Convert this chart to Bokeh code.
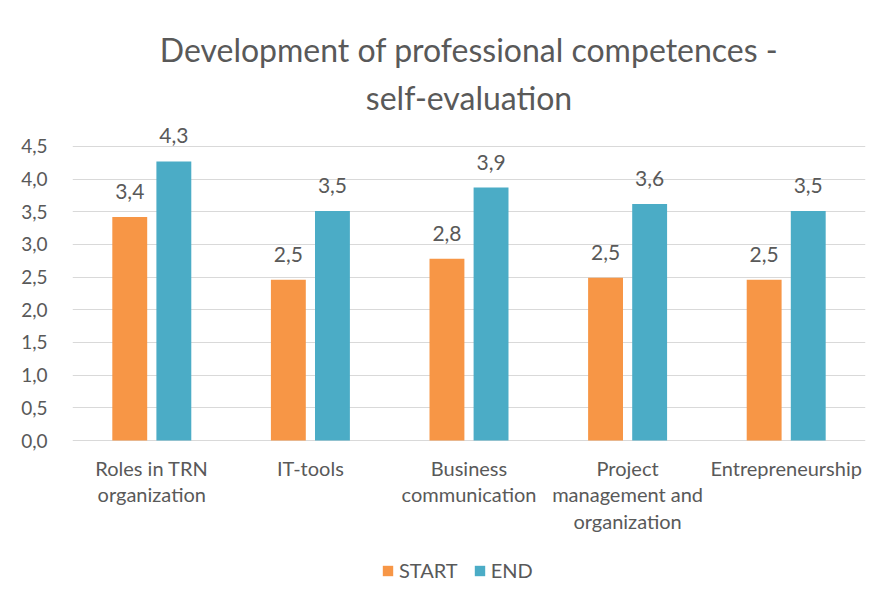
from bokeh.plotting import figure
from bokeh.models import (ColumnDataSource, FixedTicker, CustomJSTickFormatter, LabelSet,
                          Legend, LegendItem, Title, Range1d)
from bokeh.core.properties import value
from bokeh.transform import dodge
from bokeh.embed import file_html
from bokeh.resources import INLINE

categories = ["Roles in TRN\norganization", "IT-tools", "Business\ncommunication",
              "Project\nmanagement and\norganization", "Entrepreneurship"]
start_values = [3.42, 2.46, 2.78, 2.49, 2.46]
end_values = [4.27, 3.51, 3.87, 3.62, 3.51]
start_labels = ["3,4", "2,5", "2,8", "2,5", "2,5"]
end_labels = ["4,3", "3,5", "3,9", "3,6", "3,5"]
series_names = ["START", "END"]
y_ticks = [0.0, 0.5, 1.0, 1.5, 2.0, 2.5, 3.0, 3.5, 4.0, 4.5]
title_lines = ["Development of professional competences -", "self-evaluation"]

ORANGE = "#F79646"
TEAL = "#4BACC6"
TXT = "#595959"
GRID = "#D9D9D9"
FONT = "Lato"

# split category names into separate lines so each line is centred
split = [c.split("\n") for c in categories]
n_lines = max(len(s) for s in split)
line_cols = {f"line{i}": [s[i] if i < len(s) else "" for s in split] for i in range(n_lines)}

src = ColumnDataSource(dict(cat=categories, start=start_values, end=end_values,
                            start_lbl=start_labels, end_lbl=end_labels,
                            base=[0.0] * len(categories), **line_cols))

# y range extends below zero so that the category labels and legend sit inside the frame
p = figure(x_range=categories, y_range=Range1d(-2.31, 4.85), width=871, height=591,
           title=None, output_backend="svg", toolbar_location=None,
           min_border_left=72, min_border_right=6, min_border_top=123, min_border_bottom=0)
p.outline_line_color = None
p.background_fill_color = "white"

p.add_layout(Title(text=title_lines[1], align="center", text_font=FONT, text_font_size="32px",
                   text_font_style="normal", text_color=TXT, standoff=13), "above")
p.add_layout(Title(text=title_lines[0], align="center", text_font=FONT, text_font_size="32px",
                   text_font_style="normal", text_color=TXT, standoff=2), "above")

off = 0.139
w = 0.22
r1 = p.vbar(x=dodge("cat", -off, range=p.x_range), top="start", width=w, source=src,
            fill_color=ORANGE, line_color=None)
r2 = p.vbar(x=dodge("cat", off, range=p.x_range), top="end", width=w, source=src,
            fill_color=TEAL, line_color=None)

for col, lbl, o in [("start", "start_lbl", -off), ("end", "end_lbl", off)]:
    p.add_layout(LabelSet(x=dodge("cat", o, range=p.x_range), y=col, text=lbl, source=src,
                          text_align="center", text_baseline="alphabetic", y_offset=18,
                          text_font=value(FONT), text_font_size=value("21px"), text_color=TXT))

# category labels under the zero line, one centred line at a time
for i in range(n_lines):
    p.add_layout(LabelSet(x="cat", y="base", text=f"line{i}", source=src,
                          text_align="center", text_baseline="middle", y_offset=-27 - 26.5 * i,
                          text_font=value(FONT), text_font_size=value("20px"), text_color=TXT))

p.xaxis.visible = False

p.yaxis.ticker = FixedTicker(ticks=y_ticks)
p.yaxis.formatter = CustomJSTickFormatter(code="return tick.toFixed(1).replace('.', ',');")
p.yaxis.axis_line_color = None
p.yaxis.major_tick_line_color = None
p.yaxis.minor_tick_line_color = None
p.yaxis.major_label_text_font = FONT
p.yaxis.major_label_text_font_size = "19px"
p.yaxis.major_label_text_color = TXT
p.yaxis.major_label_standoff = 19

p.xgrid.grid_line_color = None
p.ygrid.ticker = FixedTicker(ticks=y_ticks)
p.ygrid.grid_line_color = GRID

legend = Legend(items=[LegendItem(label=series_names[0], renderers=[r1]),
                       LegendItem(label=series_names[1], renderers=[r2])],
                orientation="horizontal", location=(309, 9),
                glyph_width=13, glyph_height=13, label_standoff=5, spacing=15,
                padding=0, margin=0, border_line_color=None, background_fill_alpha=0,
                label_text_font=FONT, label_text_font_size="20px", label_text_color=TXT)
p.add_layout(legend, "center")

open("out.html", "w").write(file_html(p, INLINE))
